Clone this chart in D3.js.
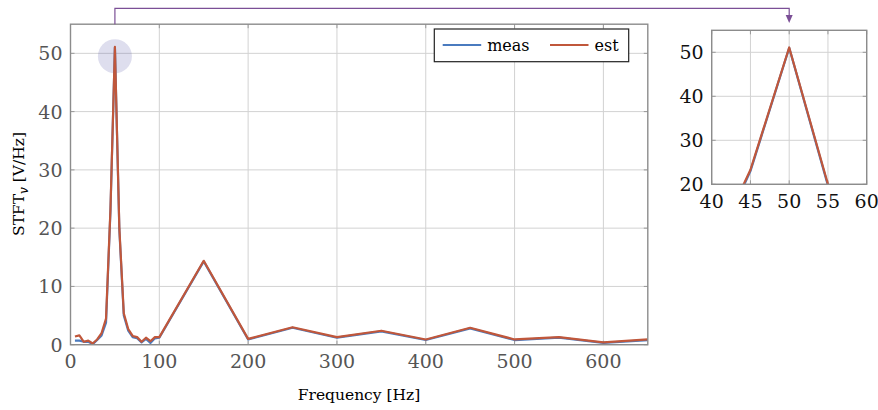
<!DOCTYPE html>
<html>
<head>
<meta charset="utf-8">
<script src="https://cdn.jsdelivr.net/npm/d3@7"></script>
<style>
body{margin:0;background:#fff;}
</style>
</head>
<body>
<svg id="chart" width="878" height="410"></svg>
<script>
// spectrum data (Hz -> V/Hz)
var freqs = [5,10,15,20,25,30,35,40,45,50,55,60,65,70,75,80,85,90,95,100,
             150,200,250,300,350,400,450,500,550,600,650];
var meas = [0.7,0.7,0.5,0.5,0.1,0.8,1.6,3.8,23.0,51.0,19.7,5.0,2.4,1.3,1.1,0.4,1.0,0.3,1.1,1.2,
            14.3,0.9,2.9,1.2,2.3,0.8,2.8,0.8,1.2,0.3,0.8];
var est = [1.4,1.6,0.5,0.7,0.2,0.9,2.0,4.5,23.3,51.1,20.0,5.4,2.7,1.5,1.3,0.5,1.2,0.6,1.3,1.3,
           14.4,1.0,3.0,1.3,2.4,0.9,2.9,0.9,1.3,0.4,0.9];
var xTicks = [0,100,200,300,400,500,600];
var yTicks = [0,10,20,30,40,50];
var zoomXTicks = [40,45,50,55,60];
var zoomYTicks = [20,30,40,50];
var peak = {f:50, v:49.5};

var svg = d3.select("#chart").style("font-family","DejaVu Serif");
var blue = "#4a7bbf", red = "#c0573b", purple = "#7b4f96";

var x = d3.scaleLinear().domain([0,650]).range([70.5,647.8]);
var y = d3.scaleLinear().domain([0,55]).range([344.7,24.2]);
var ix = d3.scaleLinear().domain([40,60]).range([711.7,866.7]);
var iy = d3.scaleLinear().domain([20,55]).range([184.3,30.3]);

var rows = freqs.map(function(f,i){ return {f:f, m:meas[i], e:est[i]}; });

// draws one panel (grid, ticks, lines, frame)
var panel = function(sx, sy, xt, yt, id, labColor){
  var g = svg.append("g");
  var x0 = sx.range()[0], x1 = sx.range()[1], y0 = sy.range()[0], y1 = sy.range()[1];
  g.selectAll(".gx").data(xt).enter().append("line")
    .attr("x1",function(d){return sx(d);}).attr("x2",function(d){return sx(d);})
    .attr("y1",y0).attr("y2",y1).style("stroke","#d2d2d2").style("stroke-width",1);
  g.selectAll(".gy").data(yt).enter().append("line")
    .attr("x1",x0).attr("x2",x1)
    .attr("y1",function(d){return sy(d);}).attr("y2",function(d){return sy(d);})
    .style("stroke","#d2d2d2").style("stroke-width",1);
  // small inward ticks
  xt.forEach(function(d){
    g.append("line").attr("x1",sx(d)).attr("x2",sx(d)).attr("y1",y0).attr("y2",y0-4).style("stroke","#999");
    g.append("line").attr("x1",sx(d)).attr("x2",sx(d)).attr("y1",y1).attr("y2",y1+4).style("stroke","#999");
  });
  yt.forEach(function(d){
    g.append("line").attr("x1",x0).attr("x2",x0+4).attr("y1",sy(d)).attr("y2",sy(d)).style("stroke","#999");
    g.append("line").attr("x1",x1).attr("x2",x1-4).attr("y1",sy(d)).attr("y2",sy(d)).style("stroke","#999");
  });

  svg.append("clipPath").attr("id",id).append("rect")
    .attr("x",x0).attr("y",y1).attr("width",x1-x0).attr("height",y0-y1);
  var inner = g.append("g").attr("clip-path","url(#"+id+")");
  if(id=="clipMain"){
    inner.append("circle").attr("cx",sx(peak.f)).attr("cy",sy(peak.v)).attr("r",17)
      .style("fill","#5a5aa8").style("opacity",0.2);
  }
  var lm = d3.line().x(function(d){return sx(d.f);}).y(function(d){return sy(d.m);});
  var le = d3.line().x(function(d){return sx(d.f);}).y(function(d){return sy(d.e);});
  inner.append("path").attr("d",lm(rows)).style("fill","none").style("stroke",blue).style("stroke-width",2.2).style("stroke-linejoin","round");
  inner.append("path").attr("d",le(rows)).style("fill","none").style("stroke",red).style("stroke-width",2.2).style("stroke-linejoin","round");

  g.append("rect").attr("x",x0).attr("y",y1).attr("width",x1-x0).attr("height",y0-y1)
    .style("fill","none").style("stroke","#8c8c8c").style("stroke-width",1.4);

  g.selectAll(".tx").data(xt).enter().append("text")
    .attr("x",function(d){return sx(d);}).attr("y",y0+23.5)
    .attr("text-anchor","middle").style("font-size","19px").style("fill",labColor)
    .text(function(d){return d;});
  g.selectAll(".ty").data(yt).enter().append("text")
    .attr("x",x0-8).attr("y",function(d){return sy(d)+7;})
    .attr("text-anchor","end").style("font-size","19px").style("fill",labColor)
    .text(function(d){return d;});
  return g;
}

panel(x, y, xTicks, yTicks, "clipMain", "#555");
panel(ix, iy, zoomXTicks, zoomYTicks, "clipZoom", "#111");

// axis labels
svg.append("text").attr("x",359).attr("y",400).attr("text-anchor","middle")
  .style("font-size","15.5px").text("Frequency [Hz]");
var yl = svg.append("text").attr("transform","translate(24,184) rotate(-90)")
  .attr("text-anchor","middle").style("font-size","15.5px");
yl.append("tspan").text("STFT");
yl.append("tspan").attr("dy",4).style("font-size","12px").style("font-style","italic").text("v");
yl.append("tspan").attr("dy",-4).text(" [V/Hz]");

// connector from peak to zoom
var px = x(peak.f), tx = ix(50);
svg.append("path").attr("d","M"+px+","+y(55)+" V8.3 H"+tx+" V17")
  .style("fill","none").style("stroke",purple).style("stroke-width",1.2);
svg.append("path").attr("d","M"+(tx-3.5)+",15 L"+(tx+3.5)+",15 L"+tx+",23 Z")
  .style("fill",purple);

// legend
var lg = svg.append("g");
lg.append("rect").attr("x",434.3).attr("y",29).attr("width",194.4).attr("height",32.7)
  .style("fill","#fff").style("stroke","#222").style("stroke-width",1.2);
var items = [{n:"meas", c:blue, x:442.7},{n:"est", c:red, x:550}];
items.forEach(function(it){
  lg.append("line").attr("x1",it.x).attr("x2",it.x+38.5).attr("y1",45).attr("y2",45)
    .style("stroke",it.c).style("stroke-width",2.2);
  lg.append("text").attr("x",it.x+44.5).attr("y",50.5).style("font-size","16px").text(it.n);
});
</script>
</body>
</html>
